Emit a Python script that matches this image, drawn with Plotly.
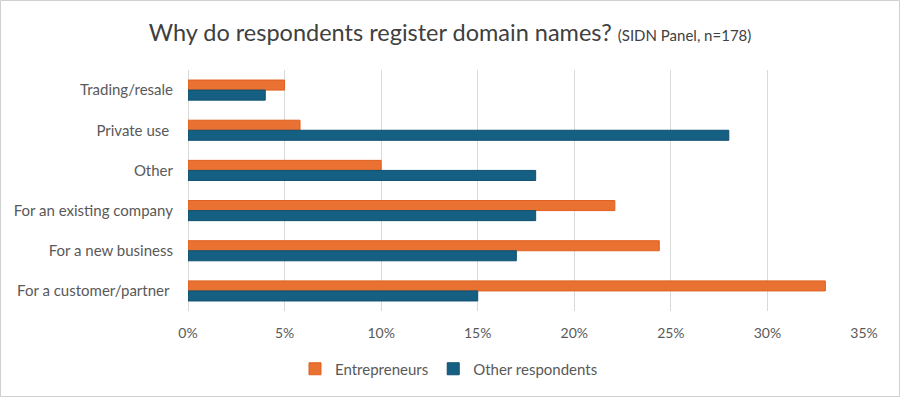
import plotly.graph_objects as go

categories = ["Trading/resale", "Private use ", "Other", "For an existing company",
              "For a new business", "For a customer/partner "]
entrepreneurs = [5.0, 5.8, 10.0, 22.1, 24.4, 33.0]
other_respondents = [4.0, 28.0, 18.0, 18.0, 17.0, 15.0]
x_ticks = [0, 5, 10, 15, 20, 25, 30, 35]
x_tick_labels = ["0%", "5%", "10%", "15%", "20%", "25%", "30%", "35%"]

FONT = "Lato"
W, H = 900, 397
ML, MR, MT, MB = 188, 36, 70, 86
PW, PH = W - ML - MR, H - MT - MB

fig = go.Figure()
fig.add_trace(go.Bar(y=categories, x=entrepreneurs, orientation="h", name="Entrepreneurs",
                     marker=dict(color="#E97132", line=dict(color="#E0601E", width=1))))
fig.add_trace(go.Bar(y=categories, x=other_respondents, orientation="h", name="Other respondents",
                     marker=dict(color="#156082", line=dict(color="#0F5070", width=1))))

def px_x(p):
    return (p - ML) / PW

def px_y(p):
    return (H - MB - p) / PH

fig.add_shape(type="rect", xref="paper", yref="paper",
              x0=px_x(0.5), x1=px_x(W - 0.5), y0=px_y(H - 0.5), y1=px_y(0.5),
              line=dict(color="#D0D0D0", width=1), fillcolor="rgba(0,0,0,0)", layer="below")

fig.update_layout(
    width=W, height=H,
    margin=dict(l=ML, r=MR, t=MT, b=MB),
    paper_bgcolor="white", plot_bgcolor="white",
    barmode="group", bargap=0.5, bargroupgap=0,
    font=dict(family=FONT, color="#595959", size=14),
    title=dict(
        text="Why do respondents register domain names? <span style='font-size:15px'>(SIDN Panel, n=178)</span>",
        x=0.5, xref="container", xanchor="center",
        y=1 - 33 / H, yref="container", yanchor="middle",
        font=dict(family=FONT, size=23.5, color="#404040"),
    ),
    xaxis=dict(range=[0, 35], tickvals=x_ticks, ticktext=x_tick_labels,
               showgrid=True, gridcolor="#D9D9D9", gridwidth=1,
               zeroline=True, zerolinecolor="#D9D9D9", zerolinewidth=1,
               showline=False, ticks="", ticklabelstandoff=12,
               tickfont=dict(size=14, color="#595959")),
    yaxis=dict(autorange="reversed", showgrid=False, zeroline=False, showline=False,
               ticks="", ticklabelstandoff=14,
               tickfont=dict(size=15, color="#595959")),
    legend=dict(orientation="h", x=px_x(449), xanchor="center",
                y=px_y(369), yanchor="middle",
                font=dict(size=15, color="#595959"), itemwidth=30),
    showlegend=True,
)

fig.write_html("out.html")
